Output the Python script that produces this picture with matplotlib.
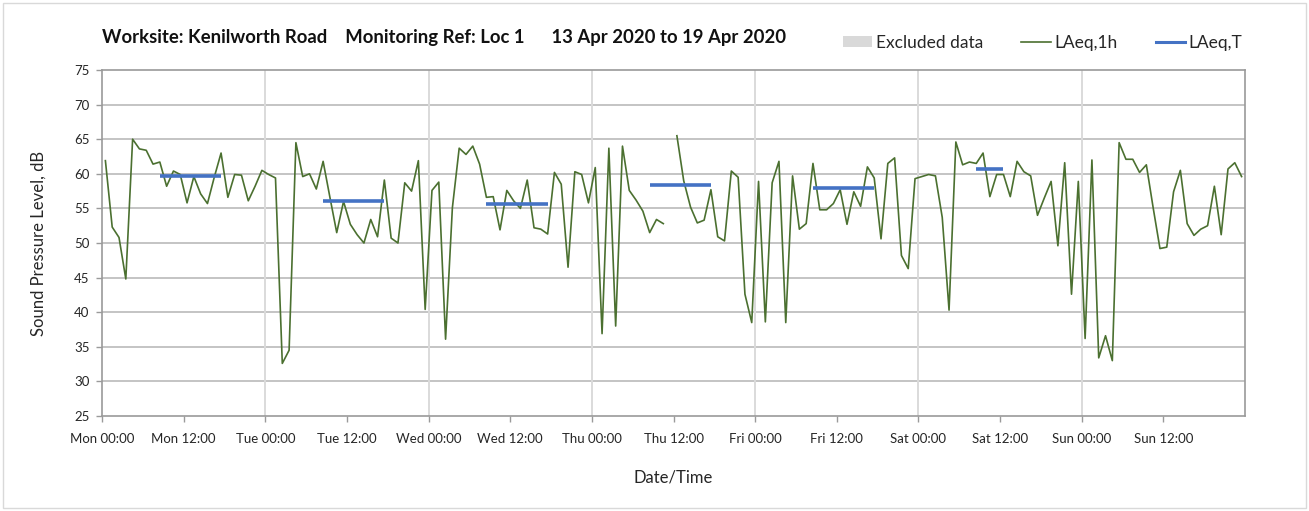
import numpy as np
import matplotlib
matplotlib.use("Agg")
import matplotlib.pyplot as plt
from matplotlib.patches import Patch, Rectangle
from matplotlib.lines import Line2D

plt.rcParams['font.family'] = ['Lato', 'DejaVu Sans']

# ---- data ----
days = ["Mon", "Tue", "Wed", "Thu", "Fri", "Sat", "Sun"]
tick_hours = list(range(0, 168, 12))
tick_labels = [f"{d} {t}" for d in days for t in ("00:00", "12:00")]

laeq_1h = [
    # Mon
    61.9, 52.3, 50.8, 44.8, 65.0, 63.6, 63.4, 61.4, 61.7, 58.2, 60.4, 59.9,
    55.8, 59.6, 57.1, 55.7, 59.5, 63.0, 56.6, 59.9, 59.8, 56.1, 58.2, 60.5,
    # Tue
    59.9, 59.4, 32.6, 34.5, 64.5, 59.6, 60.0, 57.8, 61.8, 56.6, 51.5, 56.0,
    52.7, 51.2, 50.0, 53.4, 50.9, 59.1, 50.7, 50.0, 58.7, 57.5, 61.9, 40.4,
    # Wed
    57.6, 58.8, 36.1, 55.1, 63.7, 62.8, 64.0, 61.4, 56.6, 56.7, 51.9, 57.6,
    56.1, 55.0, 59.1, 52.2, 52.0, 51.3, 60.2, 58.5, 46.5, 60.3, 59.9, 55.8,
    # Thu
    60.9, 36.9, 63.7, 38.0, 64.0, 57.6, 56.2, 54.6, 51.5, 53.4, 52.8, np.nan,
    65.5, 59.0, 55.2, 52.9, 53.3, 57.7, 50.9, 50.3, 60.4, 59.5, 42.6, 38.5,
    # Fri
    58.9, 38.6, 58.7, 61.8, 38.5, 59.7, 52.0, 52.8, 61.5, 54.8, 54.8, 55.7,
    57.7, 52.7, 57.4, 55.3, 61.0, 59.4, 50.6, 61.5, 62.3, 48.2, 46.3, 59.3,
    # Sat
    59.6, 59.9, 59.7, 53.7, 40.3, 64.6, 61.3, 61.7, 61.5, 63.0, 56.7, 59.9,
    59.9, 56.7, 61.8, 60.3, 59.7, 54.0, 56.5, 58.9, 49.6, 61.6, 42.6, 58.9,
    # Sun
    36.2, 62.0, 33.4, 36.6, 33.0, 64.5, 62.1, 62.1, 60.2, 61.3, 55.1, 49.2,
    49.4, 57.4, 60.5, 52.8, 51.1, 52.0, 52.5, 58.2, 51.2, 60.7, 61.6, 59.6,
]

# LAeq,T periods (day index, start hour, end hour, level)
laeqT_days = [0, 1, 2, 3, 4, 5]
laeqT_start = [8, 8, 8, 8, 8, 8]
laeqT_end = [18, 18, 18, 18, 18, 13]
laeqT_values = [59.7, 56.1, 55.6, 58.4, 57.9, 60.7]

# excluded periods (start hour, end hour) - none shown in this week
excluded = []

# ---- plot ----
W, H = 1309, 511
fig = plt.figure(figsize=(W / 100, H / 100), dpi=100)
ax = fig.add_axes([102 / W, 1 - 416 / H, (1245 - 102) / W, (416 - 70) / H])

hours = np.arange(len(laeq_1h)) + 0.5
for s, e in excluded:
    ax.axvspan(s, e, color="#d9d9d9", lw=0)

ax.plot(hours, laeq_1h, color="#4b7030", lw=1.2, zorder=3)
for d, s, e, v in zip(laeqT_days, laeqT_start, laeqT_end, laeqT_values):
    ax.plot([d * 24 + s + 0.5, d * 24 + e - 0.5], [v, v], color="#4472C4",
            lw=2.6, solid_capstyle="butt", zorder=4)

ax.set_xlim(0, 168)
ax.set_ylim(25, 75)
ax.set_yticks(range(25, 80, 5))
ax.set_xticks(tick_hours)
ax.set_xticklabels(tick_labels)

for y in range(30, 75, 5):
    ax.axhline(y, color="#c4c4c4", lw=1.4, zorder=1)
for dd in range(1, 7):
    ax.axvline(dd * 24, color="#dadada", lw=1.4, zorder=1)

for sp in ax.spines.values():
    sp.set_color("#9a9a9a")
    sp.set_linewidth(1.2)
ax.tick_params(axis="both", colors="#9a9a9a", labelcolor="#262626",
               labelsize=9.5, length=4, width=1)
ax.tick_params(axis="y", pad=5)
ax.tick_params(axis="x", pad=8)

ax.set_ylabel("Sound Pressure Level, dB", fontsize=12, color="#262626",
              labelpad=20)
ax.set_xlabel("Date/Time", fontsize=12, color="#262626", labelpad=18)

fig.text(102 / W, 1 - 38 / H,
         "Worksite: Kenilworth Road    Monitoring Ref: Loc 1      13 Apr 2020 to 19 Apr 2020",
         fontsize=13.3, fontweight="bold", color="#111111", va="center", ha="left")

handles = [Patch(facecolor="#d9d9d9", edgecolor="none"),
           Line2D([], [], color="#4b7030", lw=1.2),
           Line2D([], [], color="#4472C4", lw=2.2)]
fig.legend(handles, ["Excluded data", "LAeq,1h", "LAeq,T"], ncol=3,
           loc="center right", bbox_to_anchor=(1258 / W, 1 - 43 / H),
           frameon=False, fontsize=12.5, handlelength=1.7, handleheight=0.6,
           handletextpad=0.2, columnspacing=2.2, labelcolor="#262626")

fig.patches.append(Rectangle((3 / W, 3 / H), 1 - 6 / W, 1 - 6 / H,
                             transform=fig.transFigure, fill=False,
                             edgecolor="#d9d9d9", lw=1))

fig.savefig("out.png", dpi=100)
